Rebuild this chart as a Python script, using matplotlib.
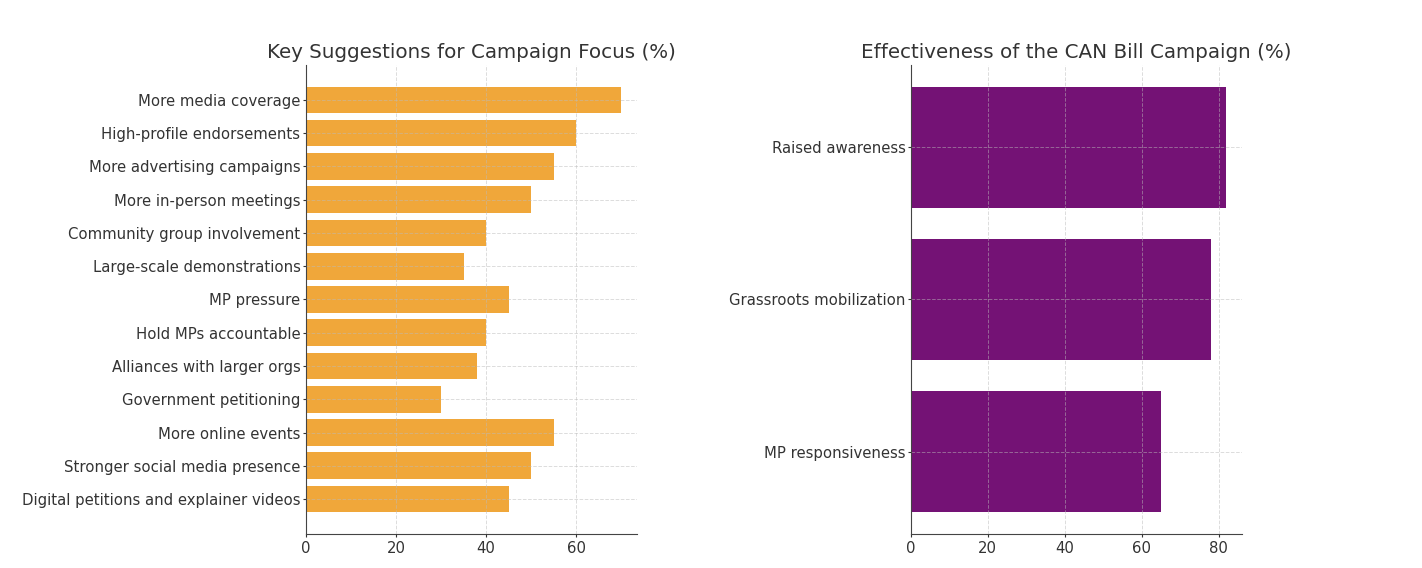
import matplotlib.pyplot as plt

plt.rcParams["font.family"] = ["DejaVu Sans"]

suggestions = [
    "More media coverage",
    "High-profile endorsements",
    "More advertising campaigns",
    "More in-person meetings",
    "Community group involvement",
    "Large-scale demonstrations",
    "MP pressure",
    "Hold MPs accountable",
    "Alliances with larger orgs",
    "Government petitioning",
    "More online events",
    "Stronger social media presence",
    "Digital petitions and explainer videos",
]
suggestion_pct = [70, 60, 55, 50, 40, 35, 45, 40, 38, 30, 55, 50, 45]

effects = ["Raised awareness", "Grassroots mobilization", "MP responsiveness"]
effect_pct = [82, 78, 65]

fig = plt.figure(figsize=(14.22, 5.68), dpi=100)
ax1 = fig.add_axes([0.2152, 0.0605, 0.2328, 0.8245])
ax2 = fig.add_axes([0.6406, 0.0605, 0.2328, 0.8245])


def style(ax):
    ax.spines["top"].set_visible(False)
    ax.spines["right"].set_visible(False)
    ax.spines["left"].set_color("#444444")
    ax.spines["bottom"].set_color("#444444")
    ax.spines["left"].set_zorder(5)
    ax.grid(True, linestyle="--", color="#bbbbbb", linewidth=0.7, alpha=0.5)
    ax.set_axisbelow(False)
    ax.tick_params(labelsize=10.7, colors="#333333", length=2.5)
    ax.tick_params(axis="y", pad=1.5)
    ax.tick_params(axis="x", pad=2.5)


ax1.barh(suggestions, suggestion_pct, color="#f0a73a")
ax1.invert_yaxis()
ax1.set_title("Key Suggestions for Campaign Focus (%)", fontsize=14.3, color="#333333", pad=5)
style(ax1)

ax2.barh(effects, effect_pct, color="#741275")
ax2.invert_yaxis()
ax2.set_title("Effectiveness of the CAN Bill Campaign (%)", fontsize=14.3, color="#333333", pad=5)
style(ax2)

fig.savefig("out.png", dpi=100)
